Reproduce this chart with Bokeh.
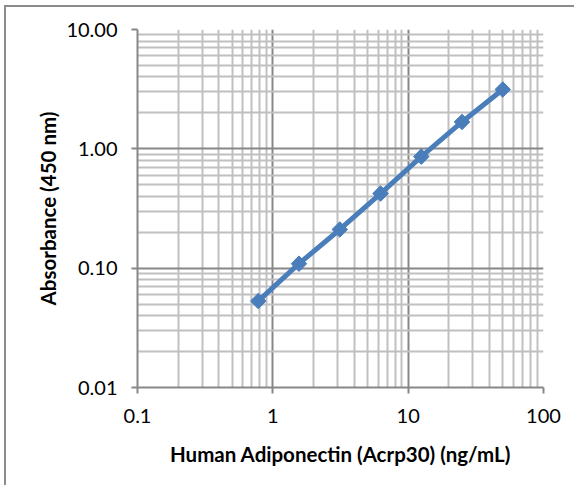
import numpy as np
from bokeh.plotting import figure
from bokeh.models import FixedTicker
from bokeh.embed import file_html
from bokeh.resources import INLINE

# Data
conc = [0.78, 1.56, 3.125, 6.25, 12.5, 25, 50]
absorb = [0.053, 0.109, 0.211, 0.422, 0.86, 1.68, 3.14]

x_ticks = [0.1, 1, 10, 100]
x_tick_labels = ["0.1", "1", "10", "100"]
y_ticks = [0.01, 0.1, 1, 10]
y_tick_labels = ["0.01", "0.10", "1.00", "10.00"]
x_minor = [m * d for d in (0.1, 1, 10) for m in range(2, 10)]
y_minor = [m * d for d in (0.01, 0.1, 1) for m in range(2, 10)]

x_title = "Human Adiponectin (Acrp30) (ng/mL)"
y_title = "Absorbance (450 nm)"

BLUE = "#4A7EBB"
MAJOR = "#878787"
MINOR = "#c0c0c0"
FONT = "Lato"

p = figure(
    width=570, height=480,
    x_axis_type="log", y_axis_type="log",
    x_range=(x_ticks[0], x_ticks[-1]), y_range=(y_ticks[0], y_ticks[-1]),
    output_backend="svg", toolbar_location=None,
    min_border_left=131, min_border_right=33,
    min_border_top=22, min_border_bottom=100,
    styles={"border-left": "2px solid #8c8c8c", "border-top": "2px solid #8c8c8c",
            "margin-left": "4px", "margin-top": "5px"},
)
p.outline_line_color = None
p.background_fill_color = "white"
p.border_fill_color = "white"

p.xaxis.ticker = FixedTicker(ticks=x_ticks, minor_ticks=x_minor)
p.yaxis.ticker = FixedTicker(ticks=y_ticks, minor_ticks=y_minor)
p.xaxis.major_label_overrides = dict(zip(x_ticks, x_tick_labels))
p.yaxis.major_label_overrides = dict(zip(y_ticks, y_tick_labels))

for ax in (p.xaxis, p.yaxis):
    ax.axis_line_color = MAJOR
    ax.axis_line_width = 2
    ax.major_tick_line_color = MAJOR
    ax.major_tick_line_width = 2
    ax.major_tick_out = 6
    ax.major_tick_in = 0
    ax.minor_tick_line_color = None
    ax.major_label_text_font = FONT
    ax.major_label_text_font_size = "20px"
    ax.major_label_text_color = "#000000"
    ax.axis_label_text_font = FONT
    ax.axis_label_text_font_size = "20.5px"
    ax.axis_label_text_font_style = "bold"
    ax.axis_label_text_color = "#000000"

p.xaxis.axis_label = x_title
p.yaxis.axis_label = y_title
p.xaxis.major_label_standoff = 15
p.yaxis.major_label_standoff = 14
p.xaxis.axis_label_standoff = 16
p.yaxis.axis_label_standoff = 3

for g in (p.xgrid, p.ygrid):
    g.grid_line_color = MAJOR
    g.grid_line_width = 2
    g.minor_grid_line_color = MINOR
    g.minor_grid_line_width = 2
p.xgrid.ticker = p.xaxis.ticker
p.ygrid.ticker = p.yaxis.ticker

p.line(conc, absorb, line_width=5, line_color=BLUE)
p.scatter(conc, absorb, marker="square", angle=np.pi / 4, size=11,
          fill_color=BLUE, line_color=BLUE)

open("out.html", "w").write(file_html(p, INLINE))
